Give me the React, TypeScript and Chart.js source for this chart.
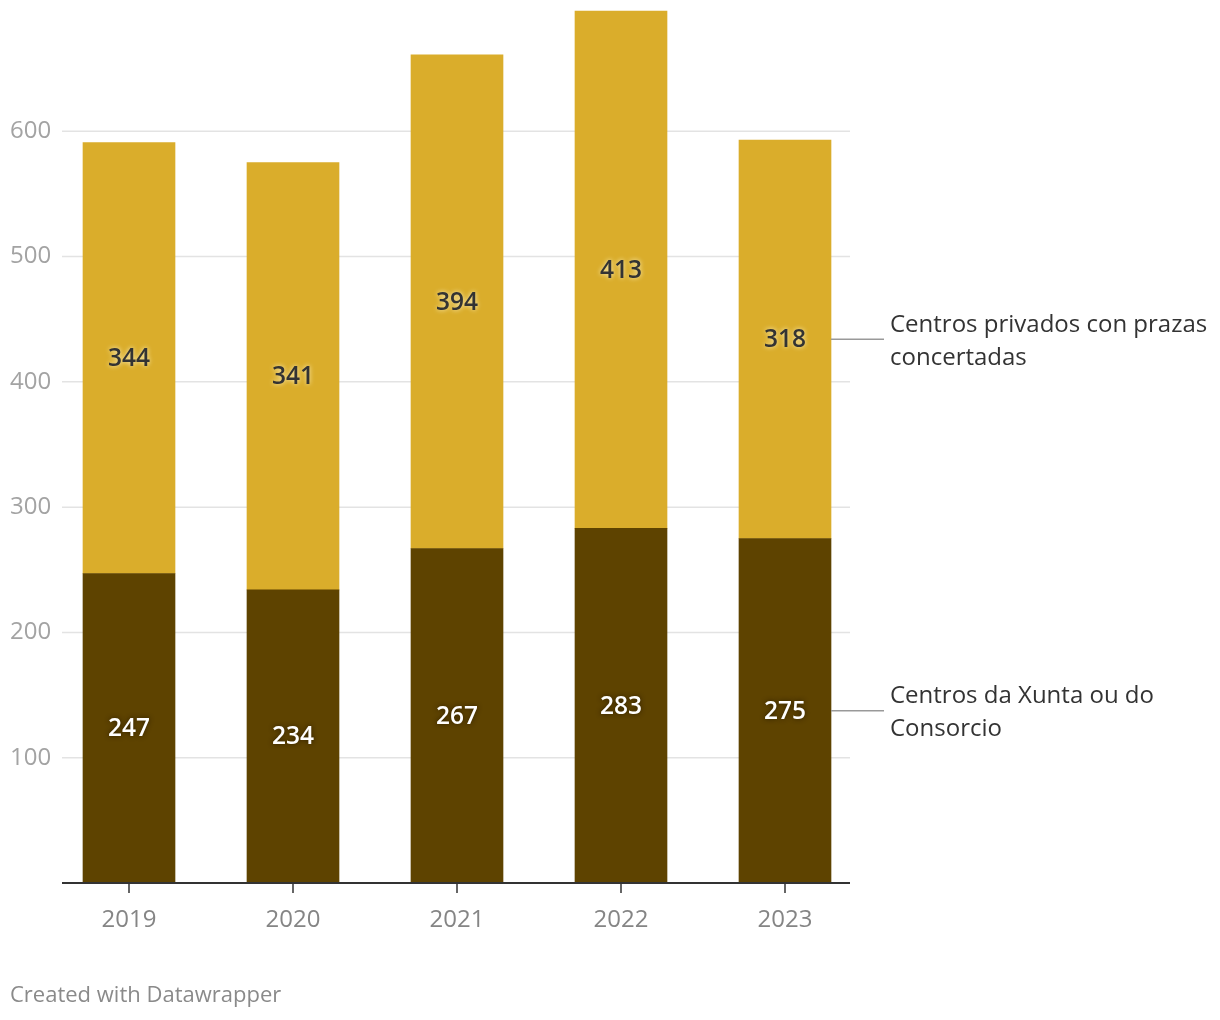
import React, { useEffect, useRef } from "react";
import { Chart, registerables } from "chart.js";

Chart.register(...registerables);

const categories = ["2019", "2020", "2021", "2022", "2023"];
const xuntaValues = [247, 234, 267, 283, 275];
const privadosValues = [344, 341, 394, 413, 318];
const xuntaLabel = ["Centros da Xunta ou do", "Consorcio"];
const privadosLabel = ["Centros privados con prazas", "concertadas"];
const yTicks = [100, 200, 300, 400, 500, 600];
const footerText = "Created with Datawrapper";

const FONT = "'Open Sans', 'Noto Sans', sans-serif";
const GOLD = "#daad2b";
const BROWN = "#5e4300";

const decorPlugin = {
  id: "decor",
  beforeDatasetsDraw(chart: any) {
    const ctx = chart.ctx;
    const y = chart.scales.y;
    ctx.save();
    ctx.strokeStyle = "#e3e3e3";
    ctx.lineWidth = 1.5;
    ctx.font = `24px ${FONT}`;
    ctx.fillStyle = "#a3a3a3";
    ctx.textAlign = "left";
    ctx.textBaseline = "middle";
    for (const t of yTicks) {
      const py = y.getPixelForValue(t);
      ctx.beginPath();
      ctx.moveTo(62, py);
      ctx.lineTo(850, py);
      ctx.stroke();
      ctx.fillText(String(t), 10, py);
    }
    ctx.restore();
  },
  afterDatasetsDraw(chart: any) {
    const ctx = chart.ctx;
    const x = chart.scales.x;
    const y = chart.scales.y;
    const base = y.getPixelForValue(0);
    ctx.save();
    // axis line
    ctx.strokeStyle = "#333333";
    ctx.lineWidth = 2;
    ctx.beginPath();
    ctx.moveTo(62, base);
    ctx.lineTo(850, base);
    ctx.stroke();
    // ticks and labels
    ctx.lineWidth = 1.5;
    ctx.font = `24px ${FONT}`;
    ctx.fillStyle = "#858585";
    ctx.textAlign = "center";
    ctx.textBaseline = "middle";
    categories.forEach((c, i) => {
      const px = x.getPixelForValue(i);
      ctx.beginPath();
      ctx.moveTo(px, base);
      ctx.lineTo(px, base + 10);
      ctx.stroke();
      ctx.fillText(c, px, base + 37);
    });
    // value labels
    ctx.font = `600 24.5px ${FONT}`;
    categories.forEach((c, i) => {
      const px = x.getPixelForValue(i);
      const a = xuntaValues[i];
      const b = privadosValues[i];
      const yA = y.getPixelForValue(a / 2);
      const yB = y.getPixelForValue(a + b / 2);
      ctx.shadowBlur = 5;
      ctx.shadowColor = "rgba(40,25,0,0.9)";
      ctx.fillStyle = "#ffffff";
      ctx.fillText(String(a), px, yA + 1);
      ctx.shadowColor = "rgba(255,245,200,0.95)";
      ctx.fillStyle = "#333333";
      ctx.fillText(String(b), px, yB + 1);
    });
    ctx.shadowBlur = 0;
    ctx.shadowColor = "transparent";
    // annotations
    const last = categories.length - 1;
    const lastX = x.getPixelForValue(last);
    const annY = [
      { yv: y.getPixelForValue(xuntaValues[last] / 2), lines: xuntaLabel },
      { yv: y.getPixelForValue(xuntaValues[last] + privadosValues[last] / 2), lines: privadosLabel },
    ];
    ctx.strokeStyle = "#999999";
    ctx.lineWidth = 1.5;
    ctx.font = `24px ${FONT}`;
    ctx.fillStyle = "#333333";
    ctx.textAlign = "left";
    for (const a of annY) {
      ctx.beginPath();
      ctx.moveTo(lastX + 46, a.yv);
      ctx.lineTo(884, a.yv);
      ctx.stroke();
      const lh = 33;
      const start = a.yv - 14.5;
      a.lines.forEach((l, k) => ctx.fillText(l, 890, start + k * lh));
    }
    // footer
    ctx.font = `22px ${FONT}`;
    ctx.fillStyle = "#8a8a8a";
    ctx.fillText(footerText, 10, 996);
    ctx.restore();
  },
};

export default function App() {
  const ref = useRef<HTMLCanvasElement | null>(null);
  useEffect(() => {
    if (!ref.current) return;
    const chart = new Chart(ref.current, {
      type: "bar",
      data: {
        labels: categories,
        datasets: [
          { label: xuntaLabel.join(" "), data: xuntaValues, backgroundColor: BROWN, barThickness: 92 },
          { label: privadosLabel.join(" "), data: privadosValues, backgroundColor: GOLD, barThickness: 92 },
        ],
      },
      options: {
        responsive: false,
        animation: false,
        layout: { padding: { left: 47, right: 353, top: 6, bottom: 137 } },
        plugins: { legend: { display: false }, tooltip: { enabled: false } },
        scales: {
          x: { display: false, stacked: true, offset: true },
          y: { display: false, stacked: true, min: 0, max: 700 },
        },
      },
      plugins: [decorPlugin],
    });
    return () => chart.destroy();
  }, []);
  return (
    <div style={{ position: "absolute", left: 0, top: 0, width: 1220, height: 1020, background: "#fff" }}>
      <canvas ref={ref} width={1220} height={1020} style={{ width: 1220, height: 1020 }} />
    </div>
  );
}
